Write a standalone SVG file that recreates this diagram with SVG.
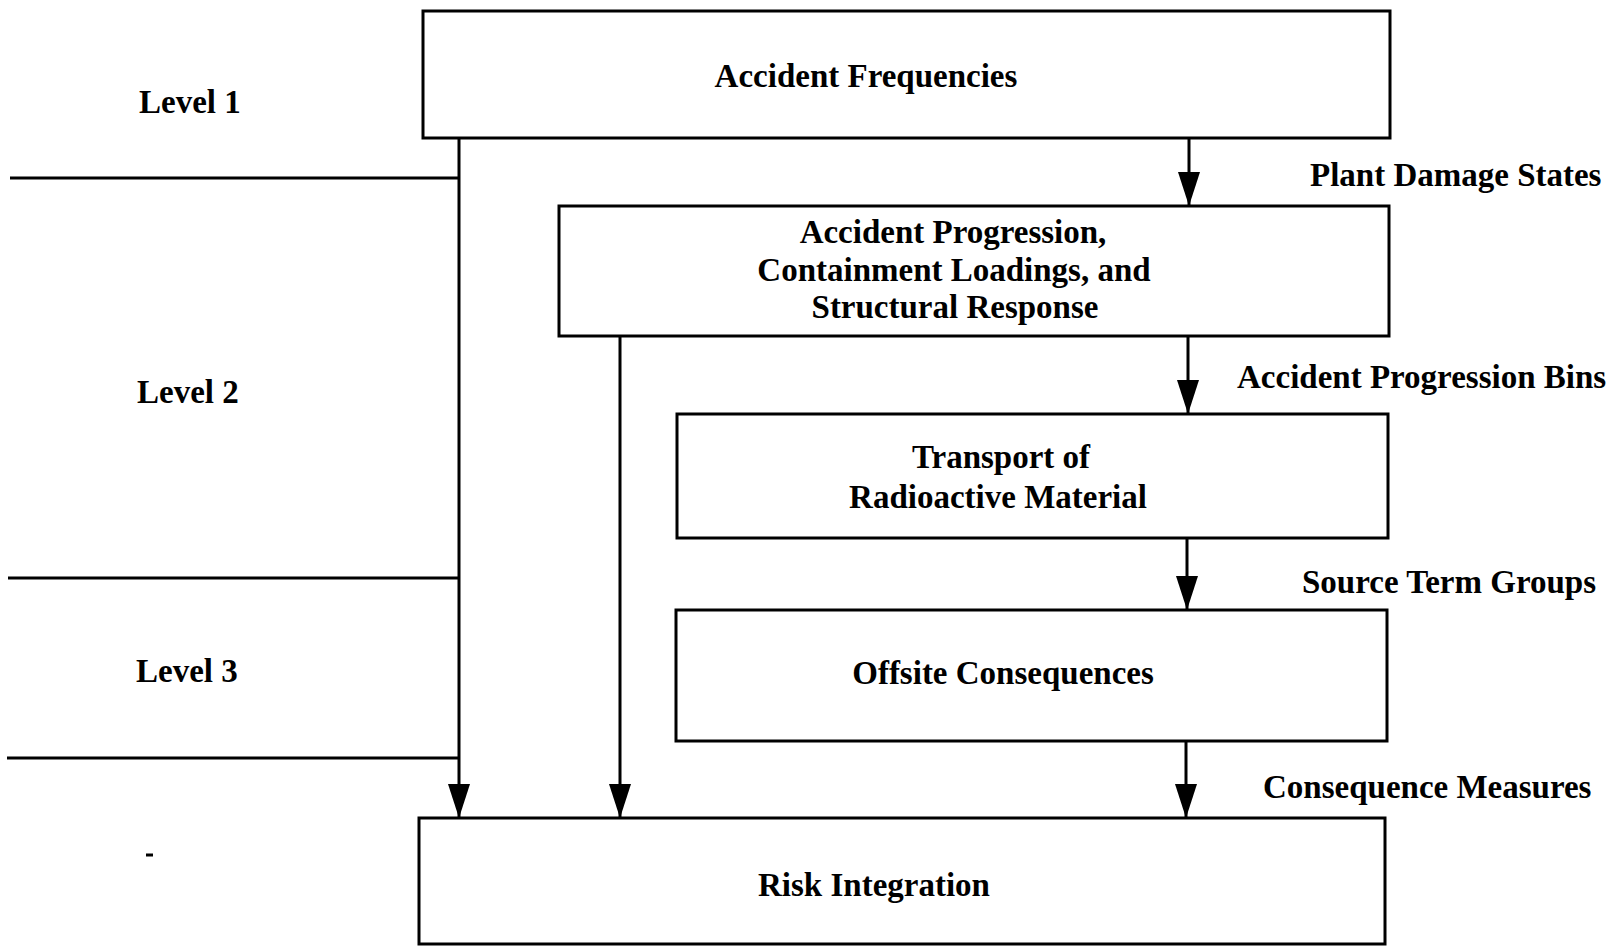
<svg xmlns="http://www.w3.org/2000/svg" width="1617" height="946" viewBox="0 0 1617 946">
<style>
.box{fill:#fff;stroke:#000;stroke-width:3}
.ln{stroke:#000;stroke-width:3;fill:none}
.t{font-family:"Liberation Serif","Times New Roman",serif;font-weight:bold;font-size:33px;fill:#000}
.c{text-anchor:middle}
</style>
<defs>
<marker id="ah" markerUnits="userSpaceOnUse" markerWidth="34" markerHeight="22" refX="34" refY="11" orient="auto" viewBox="0 0 34 22">
<path d="M0,0 L34,11 L0,22 Z" fill="#000"/>
</marker>
</defs>
<rect width="1617" height="946" fill="#fff"/>
<g id="levels">
<text class="t" x="139" y="113">Level 1</text>
<text class="t" x="137" y="403">Level 2</text>
<text class="t" x="136" y="682">Level 3</text>
<line class="ln" x1="10" y1="178" x2="459" y2="178"/>
<line class="ln" x1="8" y1="578" x2="459" y2="578"/>
<line class="ln" x1="7" y1="758" x2="459" y2="758"/>
<line class="ln" x1="146" y1="855" x2="153" y2="855" stroke-width="2"/>
</g>
<g id="n1">
<rect class="box" x="423" y="11" width="967" height="127"/>
<text class="t c" x="866" y="87">Accident Frequencies</text>
</g>
<g id="n2">
<rect class="box" x="559" y="206" width="830" height="130"/>
<text class="t c" x="953" y="243">Accident Progression,</text>
<text class="t c" x="954" y="281">Containment Loadings, and</text>
<text class="t c" x="955" y="318">Structural Response</text>
</g>
<g id="n3">
<rect class="box" x="677" y="414" width="711" height="124"/>
<text class="t c" x="1001" y="468">Transport of</text>
<text class="t c" x="998" y="508">Radioactive Material</text>
</g>
<g id="n4">
<rect class="box" x="676" y="610" width="711" height="131"/>
<text class="t c" x="1003" y="684">Offsite Consequences</text>
</g>
<g id="n5">
<rect class="box" x="419" y="818" width="966" height="126"/>
<text class="t c" x="874" y="896">Risk Integration</text>
</g>
<g id="connectors">
<line class="ln" x1="1189" y1="138" x2="1189" y2="206" marker-end="url(#ah)"/>
<line class="ln" x1="1188" y1="336" x2="1188" y2="414" marker-end="url(#ah)"/>
<line class="ln" x1="1187" y1="538" x2="1187" y2="610" marker-end="url(#ah)"/>
<line class="ln" x1="1186" y1="741" x2="1186" y2="818" marker-end="url(#ah)"/>
<line class="ln" x1="459" y1="138" x2="459" y2="818" marker-end="url(#ah)"/>
<line class="ln" x1="620" y1="336" x2="620" y2="818" marker-end="url(#ah)"/>
<text class="t" x="1310" y="186">Plant Damage States</text>
<text class="t" x="1237" y="388">Accident Progression Bins</text>
<text class="t" x="1302" y="593">Source Term Groups</text>
<text class="t" x="1263" y="798">Consequence Measures</text>
</g>
</svg>
